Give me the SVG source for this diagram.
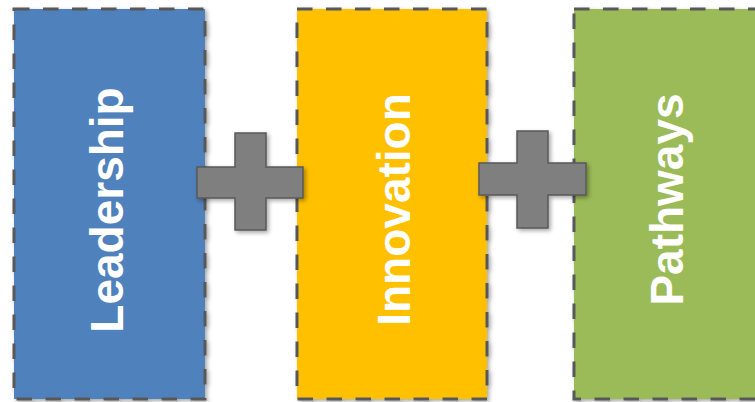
<svg xmlns="http://www.w3.org/2000/svg" width="755" height="402" viewBox="0 0 755 402">
  <defs>
    <filter id="shadow" x="-10%" y="-10%" width="130%" height="130%">
      <feDropShadow dx="2" dy="2" stdDeviation="2.2" flood-color="#000" flood-opacity="0.35"/>
    </filter>
  </defs>
  <style>
    .box { stroke: #595959; stroke-width: 3; stroke-dasharray: 15.5 13.5; filter: url(#shadow); }
    .label { font-family: "Liberation Sans", Arial, sans-serif; font-weight: bold; font-size: 46px; fill: #FFFFFF; text-anchor: middle; }
    .plus { fill: #7F7F7F; stroke: #595959; stroke-width: 1.5; filter: url(#shadow); }
  </style>
  <rect width="755" height="402" fill="#FFFFFF"/>
  <g id="leadership">
    <rect class="box" x="14" y="9" width="191" height="390" fill="#4F81BD"/>
    <text class="label" transform="translate(123,210) rotate(-90)">Leadership</text>
  </g>
  <g id="innovation">
    <rect class="box" x="297" y="9" width="190" height="390" fill="#FFC000"/>
    <text class="label" transform="translate(410,209.5) rotate(-90)">Innovation</text>
  </g>
  <g id="pathways">
    <rect class="box" x="574" y="9" width="200" height="390" fill="#9BBB59"/>
    <text class="label" transform="translate(683,199.5) rotate(-90)">Pathways</text>
  </g>
  <g id="connectors">
    <path id="plus1" class="plus" d="M235,133 H266 V167 H303 V198 H266 V230 H235 V198 H197 V167 H235 Z"/>
    <path id="plus2" class="plus" d="M517,131 H548 V163 H586 V195 H548 V228 H517 V195 H479 V163 H517 Z"/>
  </g>
</svg>
